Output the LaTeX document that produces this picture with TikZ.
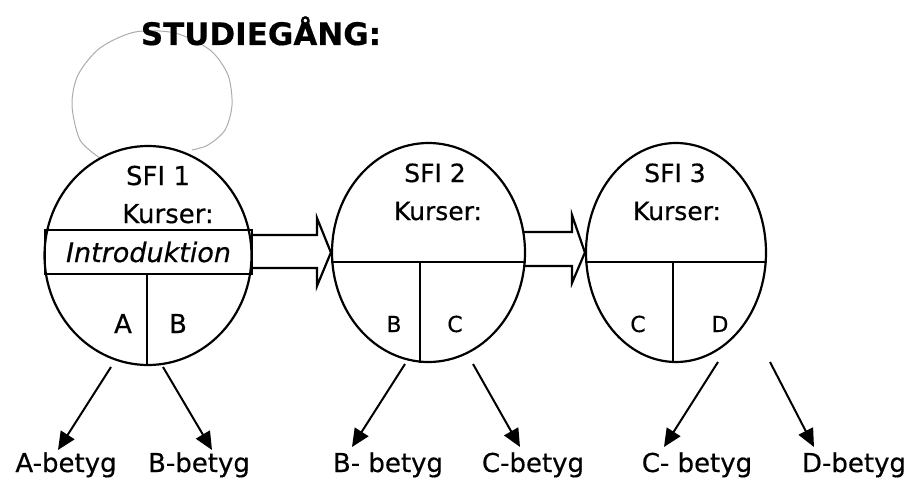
\documentclass[tikz,border=0pt]{standalone}
\usepackage{fontspec}
\setmainfont{DejaVu Sans}[FakeBold=0.5]
\usetikzlibrary{shapes.geometric, arrows.meta}

\begin{document}
\begin{tikzpicture}[x=1pt, y=-1pt,
    course/.style={draw, ellipse, line width=2.2pt, inner sep=0pt},
    band/.style={draw, line width=2.2pt, inner sep=0pt},
    divider/.style={line width=2pt},
    blockarrow/.style={line width=2.2pt, line join=miter},
    grade/.style={line width=2pt, -{Triangle[length=18pt, width=16pt]}},
    big/.style={inner sep=0pt, anchor=base, font=\fontsize{26}{30}\selectfont},
    small/.style={inner sep=0pt, anchor=base, font=\fontsize{25}{30}\selectfont}]
    \useasboundingbox (0,0) rectangle (911,479);

    % pencil loop
    \draw[gray!65, line width=1pt] plot[smooth] coordinates {(100,158) (80,140) (72,105)
        (78,75) (100,48) (135,32) (175,33) (210,50) (228,75) (232,105) (225,130) (208,145) (192,150)};

    \node[inner sep=0pt, anchor=base, font=\bfseries\fontsize{31}{36}\selectfont] (title) at (261,45) {STUDIEGÅNG:};

    \node[course, minimum width=207pt, minimum height=219pt] (sfi1) at (148,255.5) {};
    \node[course, minimum width=193pt, minimum height=219pt] (sfi2) at (428.5,252.5) {};
    \node[course, minimum width=180pt, minimum height=219pt] (sfi3) at (676,252.5) {};

    % SFI 1
    \node[big] (n1) at (158,185) {SFI 1};
    \node[big] (k1) at (168,223) {Kurser:};
    \node[band, minimum width=207pt, minimum height=44pt, font=\itshape\fontsize{27}{30}\selectfont]
        (intro) at (148.5,252) {Introduktion\hspace{12pt}};
    \draw[divider] (intro.south -| 147,0) -- (sfi1.south -| 147,0);
    \node[big] (a1) at (123,333) {A};
    \node[big] (b1) at (178,333) {B};

    % SFI 2
    \node[small] (n2) at (435,182) {SFI 2};
    \node[small] (k2) at (438,220) {Kurser:};
    \draw[divider] (sfi2.west |- 0,262) -- (sfi2.east |- 0,262);
    \draw[divider] (420,262) -- (sfi2.south -| 420,0);
    \node[small, font=\fontsize{22}{26}\selectfont] (b2) at (394,332) {B};
    \node[small, font=\fontsize{22}{26}\selectfont] (c2) at (455,332) {C};

    % SFI 3
    \node[small] (n3) at (675,182) {SFI 3};
    \node[small] (k3) at (677,220) {Kurser:};
    \draw[divider] (sfi3.west |- 0,262) -- (sfi3.east |- 0,262);
    \draw[divider] (673,262) -- (sfi3.south -| 673,0);
    \node[small, font=\fontsize{22}{26}\selectfont] (c3) at (638,332) {C};
    \node[small, font=\fontsize{22}{26}\selectfont] (d3) at (720,332) {D};

    % block arrows
    \draw[blockarrow] (intro.east |- 0,235) -- (317,235) -- (317,218) -- (sfi2.west)
        -- (317,286) -- (317,268) -- (intro.east |- 0,268);
    \draw[blockarrow] (524,232) -- (572,232) -- (572,215) -- (sfi3.west)
        -- (572,283) -- (572,266) -- (524,266);

    % grades
    \node[big] (abet) at (66,472) {A-betyg};
    \node[big] (bbet1) at (199,472) {B-betyg};
    \node[big] (bbet2) at (388,472) {B- betyg};
    \node[big] (cbet1) at (533,472) {C-betyg};
    \node[big] (cbet2) at (697,472) {C- betyg};
    \node[big] (dbet) at (854,472) {D-betyg};

    \coordinate (s1a) at (111,367);
    \coordinate (t1a) at (58,450);
    \coordinate (s1b) at (163,367);
    \coordinate (t1b) at (212,450);
    \coordinate (s2a) at (405,364);
    \coordinate (t2a) at (352,447);
    \coordinate (s2b) at (473,364);
    \coordinate (t2b) at (520,447);
    \coordinate (s3a) at (718,362);
    \coordinate (t3a) at (664,447);
    \coordinate (s3b) at (770,362);
    \coordinate (t3b) at (814,447);
    \draw[grade] (s1a) -- (t1a);
    \draw[grade] (s1b) -- (t1b);
    \draw[grade] (s2a) -- (t2a);
    \draw[grade] (s2b) -- (t2b);
    \draw[grade] (s3a) -- (t3a);
    \draw[grade] (s3b) -- (t3b);
\end{tikzpicture}
\end{document}
